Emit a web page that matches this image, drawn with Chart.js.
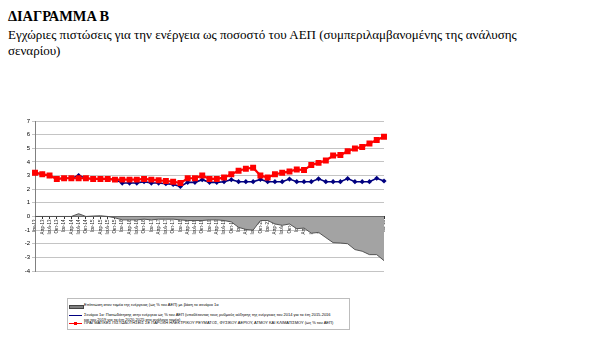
<!DOCTYPE html>
<html>
<head>
<meta charset="utf-8">
<script src="https://cdn.jsdelivr.net/npm/chart.js@4/dist/chart.umd.min.js"></script>
<style>
  html, body { margin: 0; padding: 0; background: #fff; width: 606px; height: 355px; overflow: hidden; }
  .title { position: absolute; left: 8px; top: 8px; font-family: "Liberation Serif", serif; font-size: 14.4px; font-weight: bold; color: #000; white-space: nowrap; }
  .sub { position: absolute; left: 8px; top: 27px; font-family: "Liberation Serif", serif; font-size: 13px; line-height: 16px; color: #000; white-space: nowrap; }
  #wrap { position: absolute; left: 0; top: 110px; width: 400px; height: 170px; }
  .legend { position: absolute; left: 67px; top: 298px; width: 283px; height: 32px; border: 1px solid #bdbdbd; box-sizing: border-box; font-family: "Liberation Sans", Arial, sans-serif; font-size: 4px; line-height: 4.5px; color: #000; }
  .item { position: absolute; left: 1px; }
  .sw { position: absolute; left: 0; width: 13px; }
  .txt { position: absolute; left: 15px; white-space: nowrap; }
</style>
</head>
<body>
<div class="title">ΔΙΑΓΡΑΜΜΑ Β</div>
<div class="sub">Εγχώριες πιστώσεις για την ενέργεια ως ποσοστό του ΑΕΠ (συμπεριλαμβανομένης της ανάλυσης<br>σεναρίου)</div>
<div id="wrap"><canvas id="c" width="400" height="170"></canvas></div>
<div class="legend">
  <div class="item" style="top:4px;"><div class="sw" style="top:1.5px;height:2px;background:#808080;border:0.5px solid #444;"></div><div class="txt">Επίπτωση στον τομέα της ενέργειας (ως % του ΑΕΠ) με βάση το σενάριο 1α</div></div>
  <div class="item" style="top:14px;"><div class="sw" style="top:1.5px;height:1px;background:#000080;"></div><div class="txt">Σενάριο 1α: Πιστωδότησης στην ενέργεια ως % του ΑΕΠ (υποθέτοντας τους ρυθμούς αύξησης της ενέργειας του 2014 για τα έτη 2015-2016<br>και του 2019 για τα έτη 2020-2025 στο ανάλογο τομέα)</div></div>
  <div class="item" style="top:22px;"><div class="sw" style="top:1.5px;height:1.5px;background:#ff0000;"></div><div style="position:absolute;left:5px;top:0.5px;width:3px;height:3px;background:#ff0000;"></div><div class="txt">ΠΡΑΓΜΑΤΙΚΕΣ ΠΙΣΤΩΔΟΤΗΣΕΙΣ ΣΕ ΠΑΡΟΧΗ ΗΛΕΚΤΡΙΚΟΥ ΡΕΥΜΑΤΟΣ, ΦΥΣΙΚΟΥ ΑΕΡΙΟΥ, ΑΤΜΟΥ ΚΑΙ ΚΛΙΜΑΤΙΣΜΟΥ (ως % του ΑΕΠ)</div></div>
</div>
<script>
const categories = [
  "Ιαν-13","Απρ-13","Ιουλ-13","Οκτ-13",
  "Ιαν-14","Απρ-14","Ιουλ-14","Οκτ-14",
  "Ιαν-15","Απρ-15","Ιουλ-15","Οκτ-15",
  "Ιαν-16","Απρ-16","Ιουλ-16","Οκτ-16",
  "Ιαν-17","Απρ-17","Ιουλ-17","Οκτ-17",
  "Ιαν-18","Απρ-18","Ιουλ-18","Οκτ-18",
  "Ιαν-19","Απρ-19","Ιουλ-19","Οκτ-19",
  "Ιαν-20","Απρ-20","Ιουλ-20","Οκτ-20",
  "Ιαν-21","Απρ-21","Ιουλ-21","Οκτ-21",
  "Ιαν-22","Απρ-22","Ιουλ-22","Οκτ-22",
  "Ιαν-23","Απρ-23","Ιουλ-23","Οκτ-23",
  "Ιαν-24","Απρ-24","Ιουλ-24","Οκτ-24",
  "Ιαν-25"
];

// Actual credit to energy (% of GDP) - red
const actualCredit = [
  3.2, 3.1, 3.0, 2.75, 2.8, 2.8, 2.8, 2.8, 2.75, 2.75, 2.75, 2.7,
  2.7, 2.7, 2.7, 2.75, 2.7, 2.65, 2.6, 2.55, 2.45, 2.8, 2.8, 3.0,
  2.75, 2.75, 2.85, 3.1, 3.35, 3.5, 3.57, 3.0, 2.85, 3.1, 3.2, 3.3,
  3.45, 3.4, 3.78, 3.93, 4.1, 4.47, 4.5, 4.78, 4.98, 5.1, 5.35, 5.6, 5.84
];

// Scenario 1a (% of GDP) - blue
const scenario1a = [
  3.2, 3.1, 3.0, 2.75, 2.8, 2.8, 3.0, 2.8, 2.75, 2.75, 2.75, 2.7,
  2.45, 2.45, 2.45, 2.55, 2.45, 2.45, 2.4, 2.35, 2.2, 2.5, 2.5, 2.7,
  2.5, 2.5, 2.55, 2.7, 2.55, 2.55, 2.55, 2.72, 2.55, 2.55, 2.55, 2.74,
  2.55, 2.55, 2.55, 2.76, 2.55, 2.55, 2.55, 2.78, 2.55, 2.55, 2.55, 2.8, 2.6
];

// Impact on the energy sector (% of GDP) - grey area
const impact = [
  0, 0, 0, 0, 0, 0, 0.2, 0, 0.03, 0.05, 0, -0.1,
  -0.25, -0.25, -0.25, -0.2, -0.25, -0.2, -0.2, -0.2, -0.25, -0.3, -0.3, -0.3,
  -0.25, -0.25, -0.3, -0.4, -0.8, -0.95, -1.0, -0.3, -0.3, -0.55, -0.65, -0.55,
  -0.9, -0.85, -1.23, -1.17, -1.55, -1.92, -1.95, -2.0, -2.43, -2.55, -2.8, -2.8, -3.24
];

const yTicks = { min: -4, max: 7, step: 1 };

new Chart(document.getElementById('c'), {
  type: 'line',
  data: {
    labels: categories,
    datasets: [
      {
        label: 'Επίπτωση στον τομέα της ενέργειας (ως % του ΑΕΠ) με βάση το σενάριο 1α',
        data: impact,
        borderColor: '#555555',
        borderWidth: 1,
        backgroundColor: '#a3a3a3',
        fill: 'origin',
        pointRadius: 0,
        tension: 0,
        order: 3
      },
      {
        label: 'Σενάριο 1α',
        data: scenario1a,
        borderColor: '#000080',
        backgroundColor: '#000080',
        borderWidth: 1.6,
        pointStyle: 'rectRot',
        pointRadius: 2.6,
        pointBorderWidth: 0,
        fill: false,
        tension: 0,
        order: 2
      },
      {
        label: 'ΠΡΑΓΜΑΤΙΚΕΣ ΠΙΣΤΩΔΟΤΗΣΕΙΣ',
        data: actualCredit,
        borderColor: '#ff0000',
        backgroundColor: '#ff0000',
        borderWidth: 2.2,
        pointStyle: 'rect',
        pointRadius: 4.2,
        pointBorderWidth: 0,
        fill: false,
        tension: 0,
        order: 1
      }
    ]
  },
  options: {
    responsive: false,
    animation: false,
    devicePixelRatio: 1,
    layout: { padding: { left: 0, right: 16, top: 11, bottom: 9 } },
    plugins: { legend: { display: false }, tooltip: { enabled: false } },
    scales: {
      x: {
        position: { y: 0 },
        offset: false,
        z: 1,
        grid: { display: true, drawOnChartArea: false, tickLength: 2, color: '#333' },
        border: { display: true, color: '#333', width: 1 },
        ticks: {
          autoSkip: false, minRotation: 90, maxRotation: 90, padding: 1,
          font: { family: 'Liberation Sans', size: 4.5 }, color: '#222'
        }
      },
      y: {
        min: yTicks.min, max: yTicks.max,
        afterFit: (s) => { s.width = 35; },
        grid: { color: '#c4c4c4', lineWidth: 1, tickLength: 3 },
        border: { display: true, color: '#808080' },
        ticks: { stepSize: yTicks.step, padding: 2, font: { family: 'Liberation Sans', size: 6 }, color: '#000' }
      }
    }
  }
});
</script>
</body>
</html>
